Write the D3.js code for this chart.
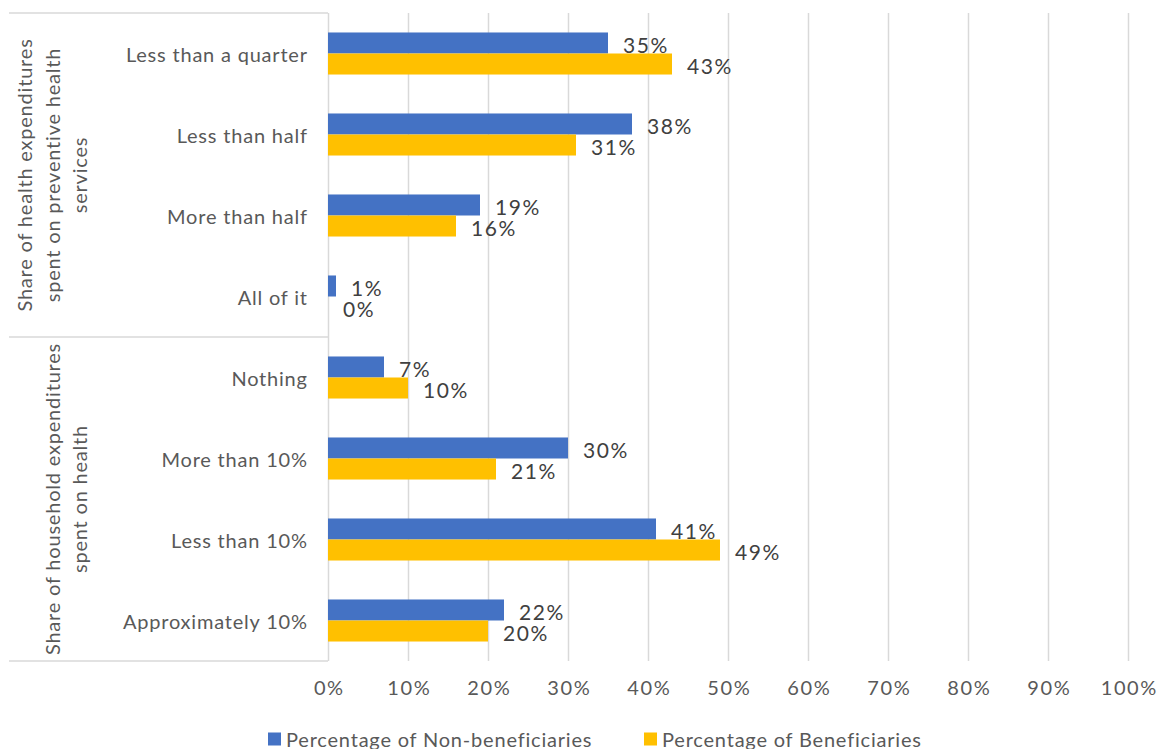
<!DOCTYPE html>
<html>
<head>
<meta charset="utf-8">
<script src="https://cdn.jsdelivr.net/npm/d3@7"></script>
<style>
  html, body { margin: 0; padding: 0; background: #fff; }
  svg { display: block; font-family: Lato, "Open Sans", sans-serif; }
</style>
</head>
<body>
<svg id="chart" width="1160" height="749"></svg>
<script>
// Category labels, top to bottom
const categories = [
  "Less than a quarter", "Less than half", "More than half", "All of it",
  "Nothing", "More than 10%", "Less than 10%", "Approximately 10%"
];
// Outer grouping of the categories
const groups = [
  { lines: ["Share of health expenditures", "spent on preventive health", "services"], from: 0, to: 3 },
  { lines: ["Share of household expenditures", "spent on health"], from: 4, to: 7 }
];
const seriesNames = ["Percentage of Non-beneficiaries", "Percentage of Beneficiaries"];
const nonBeneficiaries = [35, 38, 19, 1, 7, 30, 41, 22];
const beneficiaries    = [43, 31, 16, 0, 10, 21, 49, 20];
const xTicks = [0, 10, 20, 30, 40, 50, 60, 70, 80, 90, 100];
const colors = ["#4472C4", "#FFC000"];

const svg = d3.select("#chart");
const plot = { left: 328, right: 1128, top: 13, bottom: 661 };

const x = d3.scaleLinear().domain([0, 100]).range([plot.left, plot.right]);
const y = d3.scaleBand().domain(categories).range([plot.top, plot.bottom])
  .paddingInner(0.481).paddingOuter(0.2405);
const ySub = d3.scaleBand().domain(seriesNames).range([0, y.bandwidth()]);

const gridColor = "#d9d9d9";
const labelColor = "#595959";
const textSpacing = 0.8;

// Vertical gridlines (the 0% line doubles as the category axis line)
svg.append("g")
  .attr("transform", `translate(0,${plot.bottom})`)
  .call(d3.axisBottom(x).tickValues(xTicks).tickSize(-(plot.bottom - plot.top)).tickFormat(""))
  .call(g => g.select(".domain").remove())
  .call(g => g.selectAll(".tick line").attr("stroke", gridColor).attr("stroke-width", 1.5));

// X tick labels
svg.append("g")
  .attr("transform", `translate(0,${plot.bottom})`)
  .call(d3.axisBottom(x).tickValues(xTicks).tickSize(0).tickPadding(20).tickFormat(d => d + "%"))
  .call(g => g.select(".domain").remove())
  .call(g => g.selectAll("text")
    .attr("fill", labelColor).attr("font-size", 20)
    .attr("letter-spacing", 1.6).attr("dx", 0.8)
    .attr("font-family", "Lato, sans-serif"));

// Separator lines of the multi-level category axis
const sepYs = [plot.top, (y(categories[3]) + y.bandwidth() + y(categories[4])) / 2, plot.bottom];
svg.append("g").selectAll("line").data(sepYs).join("line")
  .attr("x1", 9).attr("x2", plot.left)
  .attr("y1", d => d).attr("y2", d => d)
  .attr("stroke", gridColor).attr("stroke-width", 1.5);

// Category labels
svg.append("g").selectAll("text").data(categories).join("text")
  .attr("x", 307 + textSpacing)
  .attr("y", d => y(d) + y.bandwidth() / 2)
  .attr("text-anchor", "end")
  .attr("dominant-baseline", "central")
  .attr("fill", labelColor)
  .attr("font-size", 20)
  .attr("letter-spacing", textSpacing)
  .text(d => d);

// Group labels, rotated
const lineGap = 27.5;
groups.forEach(gr => {
  const y0 = y(categories[gr.from]) - y.step() * y.paddingInner() / 2;
  const y1 = y(categories[gr.to]) + y.bandwidth() + y.step() * y.paddingInner() / 2;
  const cy = (y0 + y1) / 2;
  const n = gr.lines.length;
  gr.lines.forEach((ln, i) => {
    const cx = 79 - (n - 1 - i) * lineGap;
    svg.append("text")
      .attr("transform", `translate(${cx},${cy}) rotate(-90)`)
      .attr("text-anchor", "middle")
      .attr("dominant-baseline", "central")
      .attr("fill", labelColor)
      .attr("font-size", 20)
      .attr("letter-spacing", textSpacing)
      .text(ln);
  });
});

// Bars
const rows = categories.map((c, i) => ({ cat: c, vals: [nonBeneficiaries[i], beneficiaries[i]] }));
const rowG = svg.append("g").selectAll("g").data(rows).join("g")
  .attr("transform", d => `translate(0,${y(d.cat)})`);

rowG.selectAll("rect").data(d => d.vals.map((v, k) => ({ v, k }))).join("rect")
  .attr("x", x(0))
  .attr("y", d => ySub(seriesNames[d.k]))
  .attr("width", d => x(d.v) - x(0))
  .attr("height", ySub.bandwidth())
  .attr("fill", d => colors[d.k]);

rowG.selectAll("text").data(d => d.vals.map((v, k) => ({ v, k }))).join("text")
  .attr("x", d => x(d.v) + 15)
  .attr("y", d => ySub(seriesNames[d.k]) + ySub.bandwidth() / 2 + 2)
  .attr("dominant-baseline", "central")
  .attr("fill", "#404040")
  .attr("font-size", 21)
  .attr("letter-spacing", 1.6)
  .text(d => d.v + "%");

// Legend
const legendItems = [{ name: seriesNames[0], x: 268 }, { name: seriesNames[1], x: 644 }];
const lg = svg.append("g").selectAll("g").data(legendItems).join("g")
  .attr("transform", d => `translate(${d.x},739)`);
lg.append("rect").attr("x", 0).attr("y", -6.5).attr("width", 13).attr("height", 13)
  .attr("fill", (d, i) => colors[i]);
lg.append("text").attr("x", 18).attr("y", 0)
  .attr("dominant-baseline", "central")
  .attr("fill", labelColor).attr("font-size", 20)
  .attr("letter-spacing", textSpacing)
  .text(d => d.name);
</script>
</body>
</html>
